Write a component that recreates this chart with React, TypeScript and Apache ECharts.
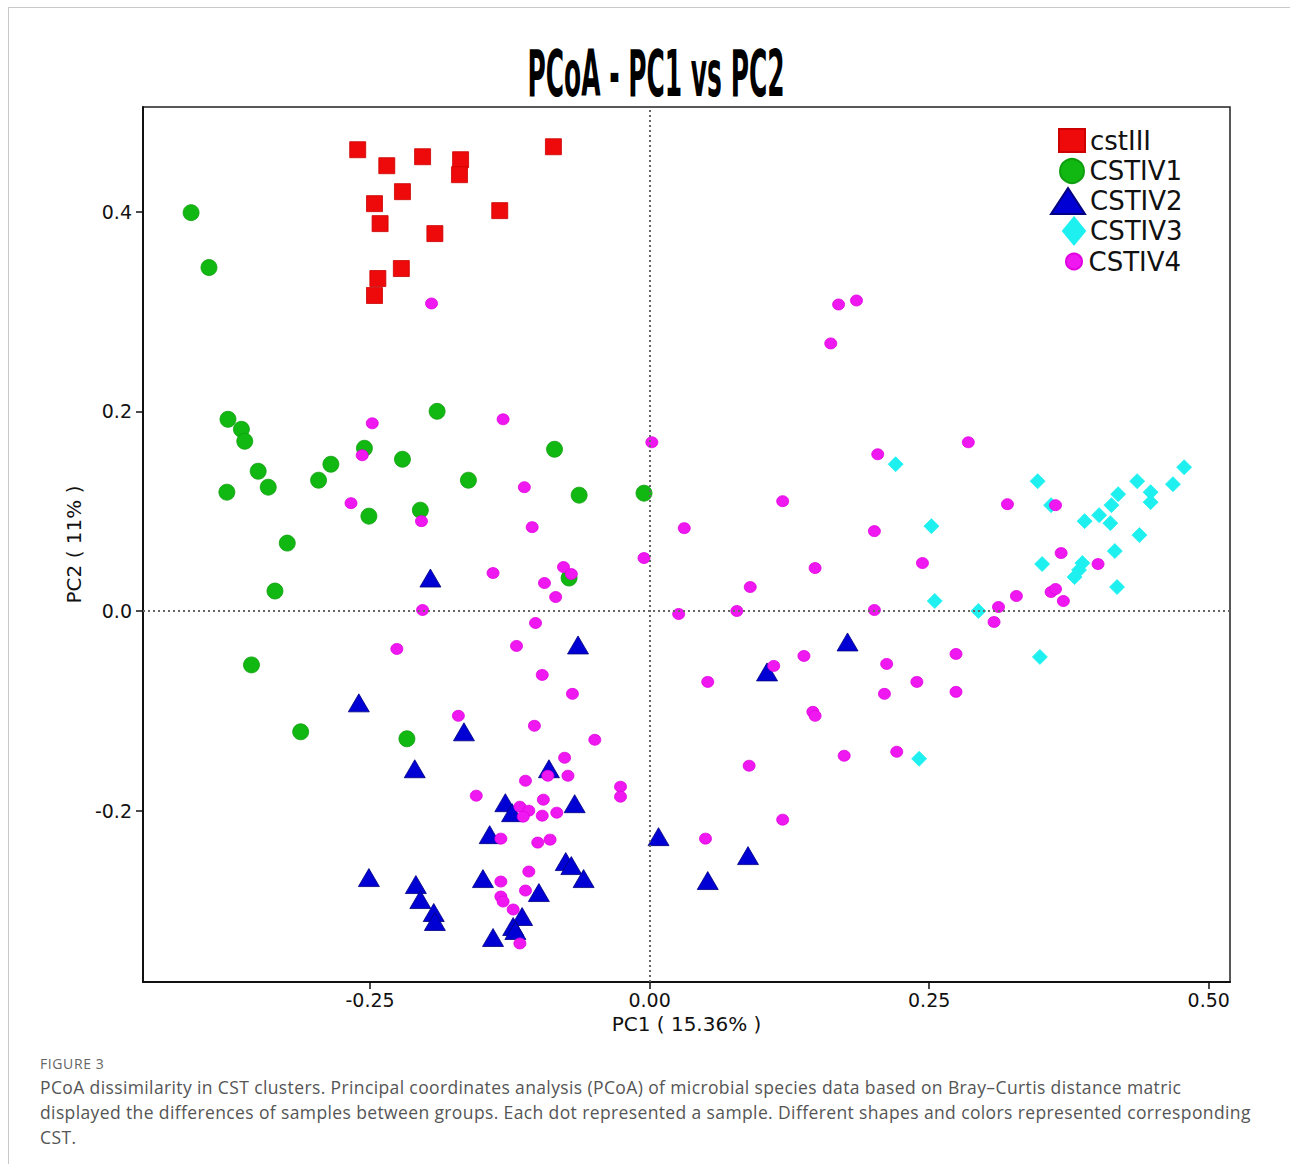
import React, { useEffect, useRef } from "react";
import * as echarts from "echarts";

// ---------- DATA ----------
const seriesNames = ["cstIII", "CSTIV1", "CSTIV2", "CSTIV3", "CSTIV4"];

const cstIII: number[][] = [
  [-0.261, 0.462], [-0.235, 0.446], [-0.203, 0.455], [-0.169, 0.452], [-0.170, 0.437],
  [-0.086, 0.465], [-0.221, 0.420], [-0.246, 0.408], [-0.241, 0.388], [-0.134, 0.401],
  [-0.192, 0.378], [-0.222, 0.343], [-0.243, 0.333], [-0.246, 0.316],
];

const cstIV1: number[][] = [
  [-0.410, 0.399], [-0.394, 0.344], [-0.377, 0.192], [-0.365, 0.182], [-0.362, 0.170],
  [-0.350, 0.140], [-0.378, 0.119], [-0.341, 0.124], [-0.324, 0.068], [-0.335, 0.020],
  [-0.296, 0.131], [-0.285, 0.147], [-0.255, 0.163], [-0.251, 0.095], [-0.221, 0.152],
  [-0.190, 0.200], [-0.205, 0.101], [-0.162, 0.131], [-0.085, 0.162], [-0.063, 0.116],
  [-0.005, 0.118], [-0.072, 0.033], [-0.356, -0.054], [-0.312, -0.121], [-0.217, -0.128],
];

const cstIV2: number[][] = [
  [-0.196, 0.033], [-0.064, -0.034], [-0.260, -0.092], [-0.166, -0.121], [-0.210, -0.158],
  [-0.090, -0.158], [-0.129, -0.192], [-0.123, -0.202], [-0.067, -0.193], [-0.143, -0.224],
  [-0.075, -0.251], [-0.070, -0.255], [-0.059, -0.268], [-0.251, -0.267], [-0.209, -0.274],
  [-0.205, -0.289], [-0.193, -0.302], [-0.192, -0.311], [-0.149, -0.268], [-0.099, -0.282],
  [-0.114, -0.306], [-0.122, -0.316], [-0.120, -0.320], [-0.140, -0.327], [0.008, -0.226],
  [0.177, -0.031], [0.105, -0.061], [0.088, -0.245], [0.052, -0.270],
];

const cstIV3: number[][] = [
  [0.220, 0.147], [0.347, 0.130], [0.436, 0.130], [0.478, 0.144], [0.468, 0.127],
  [0.419, 0.117], [0.448, 0.119], [0.448, 0.109], [0.413, 0.106], [0.359, 0.106],
  [0.389, 0.090], [0.402, 0.096], [0.412, 0.088], [0.252, 0.085], [0.438, 0.076],
  [0.416, 0.060], [0.351, 0.047], [0.387, 0.048], [0.384, 0.041], [0.380, 0.034],
  [0.418, 0.024], [0.255, 0.010], [0.294, 0.000], [0.349, -0.046], [0.241, -0.148],
];

const cstIV4: number[][] = [
  [-0.195, 0.308],
  [-0.248, 0.188], [-0.131, 0.192], [-0.257, 0.156], [0.002, 0.169], [-0.112, 0.124],
  [-0.267, 0.108], [-0.204, 0.090], [-0.105, 0.084], [-0.005, 0.053], [-0.140, 0.038],
  [-0.077, 0.044], [-0.070, 0.037], [-0.094, 0.028], [-0.084, 0.014], [-0.203, 0.001],
  [-0.102, -0.012], [-0.119, -0.035], [-0.226, -0.038],
  [-0.096, -0.064], [-0.069, -0.083], [-0.171, -0.105], [-0.103, -0.115], [-0.049, -0.129],
  [-0.076, -0.147], [-0.091, -0.165], [-0.073, -0.165], [-0.111, -0.170], [-0.026, -0.176],
  [-0.026, -0.186], [-0.155, -0.185], [-0.095, -0.189], [-0.116, -0.196], [-0.108, -0.200],
  [-0.113, -0.206], [-0.096, -0.205], [-0.083, -0.202], [-0.133, -0.228], [-0.100, -0.232],
  [-0.089, -0.229], [-0.108, -0.261], [-0.133, -0.271], [-0.111, -0.280], [-0.133, -0.286],
  [-0.131, -0.291], [-0.122, -0.299], [-0.116, -0.333],
  [0.169, 0.307], [0.185, 0.311], [0.162, 0.268], [0.285, 0.169], [0.204, 0.157],
  [0.119, 0.110], [0.031, 0.083], [0.201, 0.080], [0.320, 0.107], [0.363, 0.106],
  [0.368, 0.058], [0.401, 0.047], [0.148, 0.043], [0.244, 0.048], [0.090, 0.024],
  [0.328, 0.015], [0.359, 0.019], [0.363, 0.022], [0.370, 0.010],
  [0.026, -0.003], [0.078, 0.000], [0.201, 0.001], [0.312, 0.004], [0.308, -0.011],
  [0.138, -0.045], [0.111, -0.055], [0.212, -0.053], [0.274, -0.043], [0.052, -0.071],
  [0.239, -0.071], [0.210, -0.083], [0.274, -0.081], [0.146, -0.101], [0.148, -0.105],
  [0.174, -0.145], [0.221, -0.141], [0.089, -0.155], [0.119, -0.209], [0.050, -0.228],
];

const xTicks = [-0.25, 0, 0.25, 0.5];
const yTicks = [-0.2, 0, 0.2, 0.4];
const xRange = [-0.453, 0.519];
const yRange = [-0.3716, 0.5048];

const titleText = "PCoA - PC1 vs PC2";
const xName = "PC1 ( 15.36% )";
const yName = "PC2 ( 11% )";
const figureLabel = "FIGURE 3";
const captionLines = [
  "PCoA dissimilarity in CST clusters. Principal coordinates analysis (PCoA) of microbial species data based on Bray\u2013Curtis distance matric",
  "displayed the differences of samples between groups. Each dot represented a sample. Different shapes and colors represented corresponding",
  "CST.",
];

// ---------- STYLES ----------
const seriesData = [cstIII, cstIV1, cstIV2, cstIV3, cstIV4];
const seriesStyle = [
  { symbol: "rect", size: 16, color: "#ee0a0a", border: "#cc0000" },
  { symbol: "circle", size: 16, color: "#12b812", border: "#0e9e0e" },
  { symbol: "triangle", size: [21, 18], color: "#0000d4", border: "#000080" },
  { symbol: "diamond", size: 15, color: "#1ef0f0", border: "#1ef0f0" },
  { symbol: "circle", size: [12, 11], color: "#f018f0", border: "#e000e0" },
];
const legendStyle = [
  { icon: "rect", w: 26, h: 23, cy: 140.5 },
  { icon: "circle", w: 25, h: 24, cy: 171 },
  { icon: "triangle", w: 34, h: 26, cy: 201 },
  { icon: "diamond", w: 22, h: 27, cy: 231 },
  { icon: "circle", w: 19, h: 16, cy: 261.5 },
];

const FONT = "DejaVu Sans";

function Chart() {
  const ref = useRef<HTMLDivElement>(null);
  useEffect(() => {
    if (!ref.current) return;
    const chart = echarts.init(ref.current, undefined, { renderer: "svg" });
    const legends = seriesNames.map((name, i) => {
      const ls = legendStyle[i];
      return {
        data: [{ name, icon: ls.icon }],
        left: 1089 - 5 - ls.w,
        top: ls.cy - 15,
        padding: 0,
        itemWidth: ls.w,
        itemHeight: ls.h,
        selectedMode: false,
        textStyle: { fontFamily: FONT, fontSize: 26, lineHeight: 30, color: "#111" },
      };
    });
    const series = seriesNames.map((name, i) => {
      const st = seriesStyle[i];
      const s: any = {
        name,
        type: "scatter",
        data: seriesData[i],
        symbol: st.symbol,
        symbolSize: st.size,
        itemStyle: { color: st.color, borderColor: st.border, borderWidth: 0.8, opacity: 1 },
        emphasis: { disabled: true },
      };
      if (i === 0) {
        s.markLine = {
          silent: true,
          symbol: "none",
          label: { show: false },
          lineStyle: { type: [2, 3], color: "#666", width: 2 },
          data: [{ xAxis: 0 }, { yAxis: 0 }],
        };
      }
      return s;
    });
    chart.setOption({
      animation: false,
      backgroundColor: "transparent",
      graphic: [
        {
          type: "text",
          x: 656,
          y: 74,
          scaleX: 0.39,
          style: {
            text: titleText,
            fontFamily: FONT,
            fontWeight: "bold",
            fontSize: 64,
            fill: "#000",
            align: "center",
            verticalAlign: "middle",
            textAlign: "center",
            textVerticalAlign: "middle",
          },
        },
      ],
      legend: legends,
      grid: {
        left: 143,
        top: 107,
        width: 1087,
        height: 875,
        show: true,
        borderColor: "#222",
        borderWidth: 1.5,
        backgroundColor: "#fff",
      },
      xAxis: {
        type: "value",
        min: xRange[0],
        max: xRange[1],
        name: xName,
        nameLocation: "middle",
        nameGap: 29,
        nameTextStyle: { fontFamily: FONT, fontSize: 20, color: "#111" },
        axisLine: { onZero: false, lineStyle: { color: "#111", width: 2 } },
        axisTick: { show: true, inside: false, length: 7, customValues: xTicks, lineStyle: { color: "#111", width: 1.5 } },
        axisLabel: {
          customValues: xTicks,
          formatter: (v: number) => v.toFixed(2),
          fontFamily: FONT,
          fontSize: 19,
          color: "#111",
          margin: 8,
        },
        splitLine: { show: false },
      },
      yAxis: {
        type: "value",
        min: yRange[0],
        max: yRange[1],
        name: yName,
        nameLocation: "middle",
        nameGap: 59,
        nameRotate: 90,
        nameTextStyle: { fontFamily: FONT, fontSize: 20, color: "#111" },
        axisLine: { onZero: false, lineStyle: { color: "#111", width: 2 } },
        axisTick: { show: true, inside: false, length: 7, customValues: yTicks, lineStyle: { color: "#111", width: 1.5 } },
        axisLabel: {
          customValues: yTicks,
          formatter: (v: number) => v.toFixed(1),
          fontFamily: FONT,
          fontSize: 19,
          color: "#111",
          margin: 11,
        },
        splitLine: { show: false },
      },
      series,
    });
    return () => chart.dispose();
  }, []);
  return <div ref={ref} style={{ position: "absolute", left: 0, top: 0, width: 1290, height: 1045 }} />;
}

export default function App() {
  return (
    <div style={{ position: "absolute", left: 0, top: 0, width: 1290, height: 1164, background: "#fff", overflow: "hidden" }}>
      <div
        style={{
          position: "absolute",
          left: 8,
          top: 7,
          width: 1300,
          height: 1200,
          borderTop: "1px solid #c8c8c8",
          borderLeft: "1px solid #c8c8c8",
        }}
      />
      <Chart />
      <div
        style={{
          position: "absolute",
          left: 40,
          top: 1055,
          fontFamily: "'Open Sans', sans-serif",
          fontSize: 14,
          letterSpacing: "0.6px",
          lineHeight: "17px",
          color: "#666",
        }}
      >
        {figureLabel}
      </div>
      <div
        style={{
          position: "absolute",
          left: 40,
          top: 1075,
          fontFamily: "'Open Sans', sans-serif",
          fontSize: 17.5,
          letterSpacing: "0.38px",
          lineHeight: "25px",
          color: "#555",
          whiteSpace: "nowrap",
        }}
      >
        {captionLines.map((l, i) => (
          <div key={i}>{l}</div>
        ))}
      </div>
    </div>
  );
}
